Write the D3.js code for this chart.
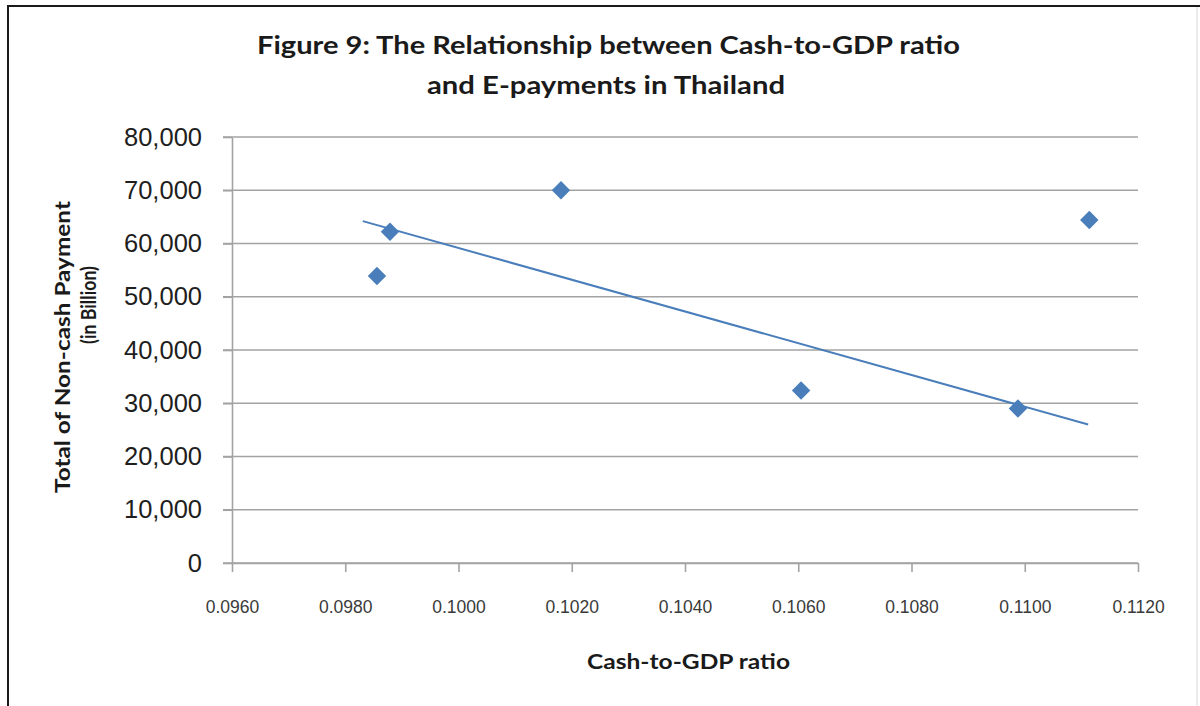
<!DOCTYPE html>
<html>
<head>
<meta charset="utf-8">
<script src="https://cdn.jsdelivr.net/npm/d3@7"></script>
<style>
  html, body { margin: 0; padding: 0; background: #fff; }
  svg { display: block; }
</style>
</head>
<body>
<div id="chart"></div>
<script>
// Cash-to-GDP ratio (x) and total non-cash payment in billion (y)
const cashToGdp = [0.09856, 0.09879, 0.10181, 0.10605, 0.10988, 0.11114];
const nonCashPayment = [53900, 62200, 70000, 32400, 29000, 64400];

// Linear trendline end points
const trendX = [0.09831, 0.11112];
const trendY = [64200, 26000];

// Axis ticks
const xTicks = [0.0960, 0.0980, 0.1000, 0.1020, 0.1040, 0.1060, 0.1080, 0.1100, 0.1120];
const yTicks = [0, 10000, 20000, 30000, 40000, 50000, 60000, 70000, 80000];

const titleLines = ["Figure 9: The Relationship between Cash-to-GDP ratio", "and E-payments in Thailand"];
const yTitleLines = ["Total of Non-cash Payment", "(in Billion)"];
const xTitle = "Cash-to-GDP ratio";

const W = 1200, H = 706;
const plot = { left: 232, right: 1138, top: 137, bottom: 563 };
const blue = "#4a7ebb";
const gridColor = "#a3a3a3";
const boldFont = "Lato, 'Open Sans', sans-serif";
const tickFont = "'Liberation Sans', Arial, sans-serif";

const svg = d3.select("#chart").append("svg")
  .attr("width", W).attr("height", H);

svg.append("rect").attr("width", W).attr("height", H).attr("fill", "#fff");

// Frame around the chart
svg.append("line").attr("x1", 7).attr("x2", W).attr("y1", 6).attr("y2", 6)
  .attr("stroke", "#1a1a1a").attr("stroke-width", 2);
svg.append("line").attr("x1", 8).attr("x2", 8).attr("y1", 5).attr("y2", H)
  .attr("stroke", "#1a1a1a").attr("stroke-width", 2);
svg.append("line").attr("x1", 1197).attr("x2", 1197).attr("y1", 7).attr("y2", H)
  .attr("stroke", "#d8d8d8").attr("stroke-width", 1);

const x = d3.scaleLinear().domain([0.096, 0.112]).range([plot.left, plot.right]);
const y = d3.scaleLinear().domain([0, 80000]).range([plot.bottom, plot.top]);

// Horizontal gridlines
svg.append("g").selectAll("line").data(yTicks).join("line")
  .attr("x1", plot.left - 9).attr("x2", plot.right)
  .attr("y1", d => y(d)).attr("y2", d => y(d))
  .attr("stroke", gridColor).attr("stroke-width", 1.6);

// Y axis
const yAxis = svg.append("g").attr("transform", `translate(${plot.left},0)`)
  .call(d3.axisLeft(y).tickValues(yTicks).tickSize(9).tickSizeOuter(0)
    .tickPadding(21).tickFormat(d3.format(",")));
yAxis.select(".domain").attr("stroke", gridColor).attr("stroke-width", 1.6);
yAxis.selectAll(".tick line").attr("stroke", gridColor).attr("stroke-width", 1.6);
yAxis.selectAll("text").attr("font-family", tickFont).attr("font-size", 25.5)
  .attr("fill", "#1e1e1e");

// X axis
const xAxis = svg.append("g").attr("transform", `translate(0,${plot.bottom})`)
  .call(d3.axisBottom(x).tickValues(xTicks).tickSize(9).tickSizeOuter(0)
    .tickPadding(29).tickFormat(d3.format(".4f")));
xAxis.select(".domain").attr("stroke", gridColor).attr("stroke-width", 1.6);
xAxis.selectAll(".tick line").attr("stroke", gridColor).attr("stroke-width", 1.6);
xAxis.selectAll("text").attr("font-family", tickFont).attr("font-size", 17.5)
  .attr("fill", "#3a3a3a");

// Trendline
svg.append("path")
  .datum(d3.zip(trendX, trendY))
  .attr("d", d3.line().x(d => x(d[0])).y(d => y(d[1])))
  .attr("fill", "none").attr("stroke", blue).attr("stroke-width", 2);

// Diamond markers
const diamond = d3.symbol().type(d3.symbolSquare).size(170);
svg.append("g").selectAll("path").data(d3.zip(cashToGdp, nonCashPayment)).join("path")
  .attr("d", diamond)
  .attr("transform", d => `translate(${x(d[0])},${y(d[1])}) rotate(45)`)
  .attr("fill", blue);

// Title
svg.append("text").attr("x", 257).attr("y", 54)
  .attr("font-family", boldFont).attr("font-weight", 700).attr("font-size", 24)
  .attr("fill", "#1a1a1a")
  .attr("textLength", 703).attr("lengthAdjust", "spacingAndGlyphs")
  .text(titleLines[0]);
svg.append("text").attr("x", 427).attr("y", 94)
  .attr("font-family", boldFont).attr("font-weight", 700).attr("font-size", 24)
  .attr("fill", "#1a1a1a")
  .attr("textLength", 358).attr("lengthAdjust", "spacingAndGlyphs")
  .text(titleLines[1]);

// Y axis title (two rotated lines)
svg.append("text")
  .attr("transform", "translate(70,347) rotate(-90)")
  .attr("text-anchor", "middle")
  .attr("font-family", boldFont).attr("font-weight", 700).attr("font-size", 20)
  .attr("fill", "#1a1a1a")
  .attr("textLength", 292).attr("lengthAdjust", "spacingAndGlyphs")
  .text(yTitleLines[0]);
svg.append("text")
  .attr("transform", "translate(96,305) rotate(-90)")
  .attr("text-anchor", "middle")
  .attr("font-family", boldFont).attr("font-weight", 700).attr("font-size", 20)
  .attr("fill", "#1a1a1a")
  .attr("textLength", 78).attr("lengthAdjust", "spacingAndGlyphs")
  .text(yTitleLines[1]);

// X axis title
svg.append("text").attr("x", 587).attr("y", 669)
  .attr("font-family", boldFont).attr("font-weight", 700).attr("font-size", 21)
  .attr("fill", "#1a1a1a")
  .attr("textLength", 203).attr("lengthAdjust", "spacingAndGlyphs")
  .text(xTitle);
</script>
</body>
</html>
